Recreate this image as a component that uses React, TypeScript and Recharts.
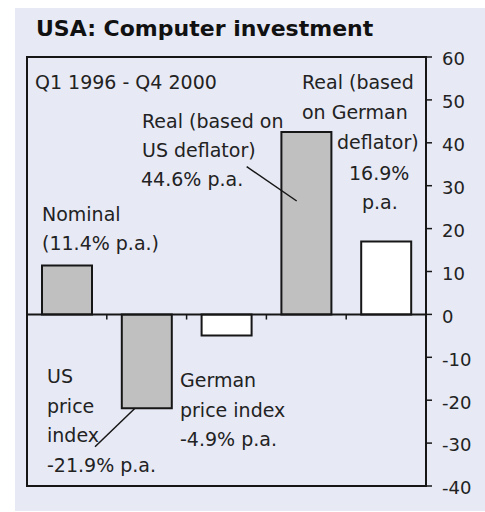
import React from 'react';
import { BarChart, Bar, Cell, XAxis, YAxis, ReferenceLine, ReferenceArea } from 'recharts';

const categories = ['Nominal', 'US price index', 'German price index', 'Real (US deflator)', 'Real (German deflator)'];
const values = [11.4, -21.9, -4.9, 42.5, 17.0];
const barFills = ['#c0c0c0', '#c0c0c0', '#ffffff', '#c0c0c0', '#ffffff'];
const yTicks = [-40, -30, -20, -10, 0, 10, 20, 30, 40, 50, 60];
const boundaries = [1, 2, 3, 4];

const W = 470;
const H = 503;
const FONT = '"DejaVu Sans", sans-serif';
const INK = '#161616';

// annotation lines: [text, x, baseline y] in wrapper pixels
const notes: [string, number, number][] = [
  ['Q1 1996 - Q4 2000', 20, 80.5],
  ['Real (based', 287, 81],
  ['on German', 287, 111],
  ['deflator)', 322, 141],
  ['16.9%', 334, 172],
  ['p.a.', 347, 201],
  ['Real (based on', 127, 120],
  ['US deflator)', 127, 149],
  ['44.6% p.a.', 126, 178],
  ['Nominal', 27, 212.5],
  ['(11.4% p.a.)', 27, 242],
  ['US', 32, 375],
  ['price', 32, 404.5],
  ['index', 32, 434],
  ['-21.9% p.a.', 32, 463.5],
  ['German', 165, 379],
  ['price index', 165, 408.5],
  ['-4.9% p.a.', 165, 438],
];

export default function App() {
  const data = categories.map((name, i) => ({ name, value: values[i], pos: i + 0.5 }));

  return (
    <div style={{ position: 'absolute', left: 15, top: 8, width: W, height: H, background: '#e7e9f5' }}>
      <BarChart width={W} height={H} data={data} margin={{ top: 49, right: 0, left: 12, bottom: 25 }}>
        <XAxis xAxisId="cat" dataKey="name" hide />
        <XAxis xAxisId="num" dataKey="pos" type="number" domain={[0, 5]} allowDataOverflow hide />
        <YAxis
          yAxisId="v"
          orientation="right"
          domain={[-40, 60]}
          ticks={yTicks}
          interval={0}
          width={59}
          tickSize={6}
          tickMargin={10}
          axisLine={{ stroke: INK, strokeWidth: 2 }}
          tickLine={{ stroke: INK, strokeWidth: 1.5 }}
          tick={{ fontSize: 18, fill: '#222', fontFamily: FONT, dy: 2 }}
        />
        <ReferenceArea xAxisId="num" yAxisId="v" x1={0} x2={5} y1={-40} y2={60} fill="none" stroke={INK} strokeWidth={2} ifOverflow="visible" />
        <Bar xAxisId="cat" yAxisId="v" dataKey="value" barSize={50} stroke={INK} strokeWidth={2} isAnimationActive={false}>
          {data.map((d, i) => (
            <Cell key={d.name} fill={barFills[i]} />
          ))}
        </Bar>
        <ReferenceLine xAxisId="num" yAxisId="v" y={0} stroke={INK} strokeWidth={2} />
        {boundaries.map(b => (
          <ReferenceLine
            key={b}
            xAxisId="num"
            yAxisId="v"
            segment={[{ x: b, y: 0 }, { x: b, y: -1.2 }]}
            stroke={INK}
            strokeWidth={1.5}
          />
        ))}
      </BarChart>
      <svg width={W} height={H} style={{ position: 'absolute', left: 0, top: 0, pointerEvents: 'none' }}>
        <text x={21} y={28} fontFamily={FONT} fontWeight="bold" fontSize={22} fill="#111">
          USA: Computer investment
        </text>
        {notes.map(([t, x, y]) => (
          <text key={t + y} x={x} y={y} fontFamily={FONT} fontSize={19} fill="#222">
            {t}
          </text>
        ))}
        <line x1={231.7} y1={158.7} x2={281.7} y2={193} stroke={INK} strokeWidth={1.5} />
        <line x1={120} y1={400.3} x2={80} y2={438.7} stroke={INK} strokeWidth={1.5} />
      </svg>
    </div>
  );
}
